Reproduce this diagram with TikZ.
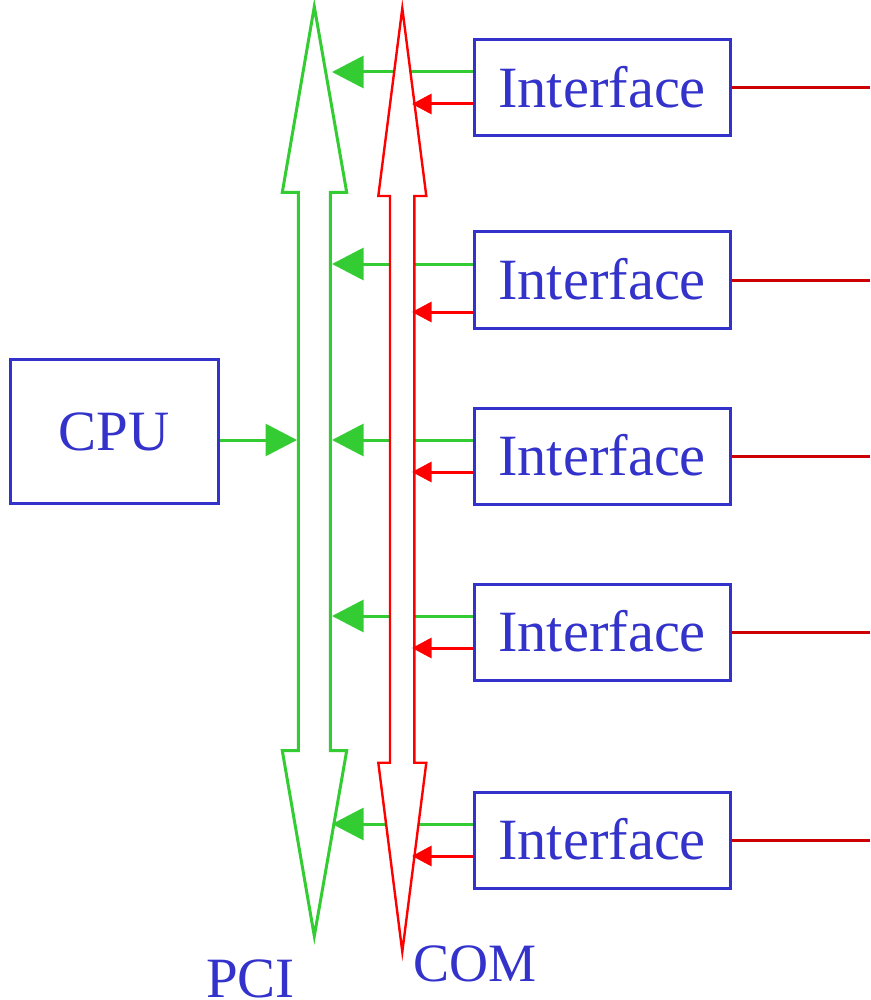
\documentclass[tikz,border=0pt]{standalone}
\usepackage{fontspec}
\setmainfont{Liberation Serif}
\usetikzlibrary{arrows.meta}
\definecolor{tblue}{RGB}{51,51,204}
\definecolor{tgreen}{RGB}{51,204,51}
\definecolor{tred}{RGB}{255,0,0}
\definecolor{dred}{RGB}{204,0,0}
\tikzset{
  ifbox/.style={draw=tblue, line width=3pt, minimum width=256pt, minimum height=96pt,
    text=tblue, font=\fontsize{58.5}{60}\selectfont, text height=38.7pt, text depth=0pt, inner sep=0pt},
  cpubox/.style={draw=tblue, line width=3pt, minimum width=208pt, minimum height=144pt,
    text=tblue, font=\fontsize{57}{60}\selectfont, text height=37.7pt, text depth=0pt, inner sep=0pt},
  buslabel/.style={text=tblue, inner sep=0pt, anchor=base west},
  garrow/.style={draw=tgreen, line width=3pt, -{Triangle[length=31.5pt,width=32pt]}},
  rarrow/.style={draw=tred, line width=3pt, -{Triangle[length=19.5pt,width=20pt]}},
  outline/.style={draw=dred, line width=3pt},
  pcibus/.style={draw=tgreen, line width=3pt, fill=white, line join=miter},
  combus/.style={draw=tred, line width=2.4pt, fill=white, line join=miter},
}
\begin{document}
\begin{tikzpicture}[x=1pt,y=-1pt]
\useasboundingbox (0,0) rectangle (870,1000);
% PCI bus
\draw[pcibus] (314.3,6.7) -- (346.7,192.3) -- (330.3,192.3) -- (330.3,750.7) -- (346.7,750.7)
  -- (314.3,936) -- (282.3,750.7) -- (298.3,750.7) -- (298.3,192.3) -- (282.3,192.3) -- cycle;
% nodes
\node[cpubox] (cpu) at (114.3,431.7) {CPU};
\node[ifbox] (i1) at (602,88) {Interface};
\node[ifbox] (i2) at (602,280) {Interface};
\node[ifbox] (i3) at (602,456) {Interface};
\node[ifbox] (i4) at (602,632) {Interface};
\node[ifbox] (i5) at (602,840) {Interface};
% coordinates on buses
\coordinate (c0) at (297,440);
\coordinate (pg1) at (332,72);
\coordinate (pg2) at (332,264);
\coordinate (pg3) at (332,440);
\coordinate (pg4) at (332,616);
\coordinate (pg5) at (332,824);
\coordinate (pr1) at (412,104);
\coordinate (pr2) at (412,312);
\coordinate (pr3) at (412,472);
\coordinate (pr4) at (412,648);
\coordinate (pr5) at (412,856);
\coordinate (o1) at (870,88);
\coordinate (o2) at (870,280);
\coordinate (o3) at (870,456);
\coordinate (o4) at (870,632);
\coordinate (o5) at (870,840);
% green connectors
\draw[garrow] (cpu.east |- c0) -- (c0);
\foreach \k in {1,...,5}{
  \draw[garrow] (pg\k -| i\k.west) -- (pg\k);
}
% COM bus (covers green lines)
\draw[combus] (402.3,8.3) -- (426.3,196) -- (414.3,196) -- (414.3,762.7) -- (426.3,762.7)
  -- (402.3,951.7) -- (378.3,762.7) -- (390,762.7) -- (390,196) -- (378.3,196) -- cycle;
% red connectors
\foreach \k in {1,...,5}{
  \draw[rarrow] (pr\k -| i\k.west) -- (pr\k);
  \draw[outline] (i\k.east) -- (o\k);
}
% labels
\node[buslabel, font=\fontsize{57}{60}\selectfont] (pci) at (206,997) {PCI};
\node[buslabel, font=\fontsize{54}{60}\selectfont] (com) at (413.5,981.7) {COM};
\end{tikzpicture}
\end{document}
